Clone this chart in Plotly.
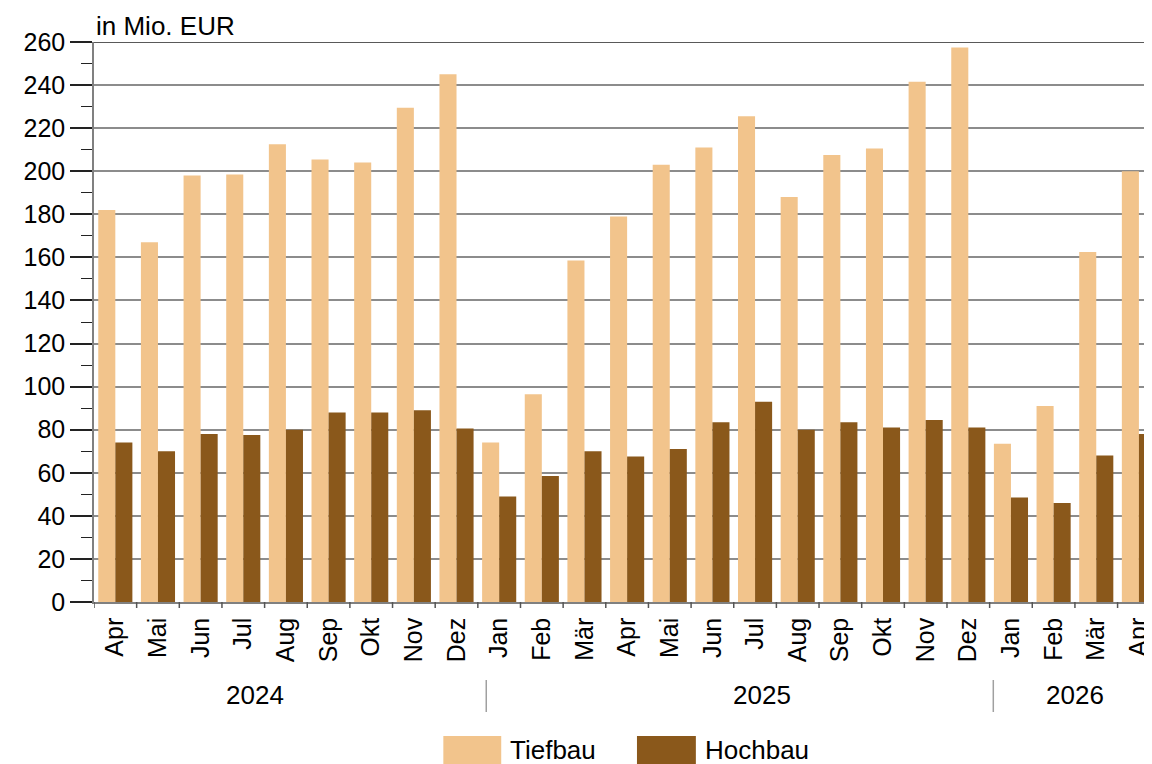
import plotly.graph_objects as go

months = ["Apr", "Mai", "Jun", "Jul", "Aug", "Sep", "Okt", "Nov", "Dez",
          "Jan", "Feb", "Mär", "Apr", "Mai", "Jun", "Jul", "Aug", "Sep", "Okt", "Nov", "Dez",
          "Jan", "Feb", "Mär", "Apr"]
years = ["2024", "2025", "2026"]
tiefbau = [182, 167, 198, 198.5, 212.5, 205.5, 204, 229.5, 245,
           74, 96.5, 158.5, 179, 203, 211, 225.5, 188, 207.5, 210.5, 241.5, 257.5,
           73.5, 91, 162.5, 200]
hochbau = [74, 70, 78, 77.5, 80, 88, 88, 89, 80.5,
           49, 58.5, 70, 67.5, 71, 83.5, 93, 80, 83.5, 81, 84.5, 81,
           48.5, 46, 68, 78]

C_TIEF = "#F2C48C"
C_HOCH = "#8A581B"

OFF = 8  # default page body margin
W, H = 1152, 764
L, T, R, B = 94, 42, 1152, 602
CAT_W = 42.73
idx = list(range(len(months)))


def px(x):
    return (x - L) / (R - L)


def py(y):
    return (B - y) / (B - T)


FONT = "Liberation Sans, Arial, sans-serif"
FS = 25

fig = go.Figure()
fig.add_bar(x=idx, y=tiefbau, name="Tiefbau", marker_color=C_TIEF, marker_line_width=0)
fig.add_bar(x=idx, y=hochbau, name="Hochbau", marker_color=C_HOCH, marker_line_width=0)

fig.update_layout(
    width=W - OFF, height=H - OFF,
    margin=dict(l=L - OFF, r=W - R, t=T - OFF, b=H - B, pad=0),
    plot_bgcolor="white", paper_bgcolor="white",
    barmode="group", bargap=0.2, bargroupgap=0,
    showlegend=False,
    font=dict(family=FONT, size=FS, color="black"),
)
fig.update_xaxes(
    type="linear",
    range=[-0.5, -0.5 + (R - L) / CAT_W],
    tickmode="array", tickvals=idx, ticktext=months,
    tickangle=-90, ticks="outside", ticklen=4, tickcolor="rgba(0,0,0,0)",
    ticklabeloverflow="allow",
    showgrid=False,
    showline=True, linecolor="#808080", linewidth=1.5,
    tickfont=dict(size=FS),
)
fig.update_yaxes(
    range=[0, 260], dtick=20, tick0=0,
    ticks="outside", ticklen=22, tickcolor="#222222", tickwidth=1.5,
    showgrid=True, gridcolor="#8c8c8c", gridwidth=1.5,
    showline=True, linecolor="#808080", linewidth=1.5,
    zeroline=False,
    minor=dict(dtick=10, ticks="outside", ticklen=11, tickcolor="#222222", tickwidth=1.2, showgrid=False),
    tickfont=dict(size=FS),
)

shapes = []
# category boundary ticks
for i in range(len(months) + 1):
    b = i - 0.5
    shapes.append(dict(type="line", xref="x", yref="paper", x0=b, x1=b, y0=0, y1=py(608),
                       line=dict(color="#555555", width=1.5)))
# top line at 260
shapes.append(dict(type="line", xref="paper", yref="y", x0=0, x1=1, y0=260, y1=260,
                   line=dict(color="#222222", width=1.5)))
# year separators
for sx in [487, 995]:
    shapes.append(dict(type="line", xref="paper", yref="paper", x0=px(sx), x1=px(sx),
                       y0=py(680), y1=py(712), line=dict(color="#a0a0a0", width=1.5)))
# legend swatches
shapes.append(dict(type="rect", xref="paper", yref="paper", x0=px(444), x1=px(502),
                   y0=py(736), y1=py(766), fillcolor=C_TIEF, line=dict(width=0)))
shapes.append(dict(type="rect", xref="paper", yref="paper", x0=px(638), x1=px(697),
                   y0=py(736), y1=py(766), fillcolor=C_HOCH, line=dict(width=0)))

annotations = [
    dict(text="in Mio. EUR", xref="paper", yref="paper", x=px(94), y=py(26),
         xanchor="left", yanchor="middle", showarrow=False, font=dict(size=FS + 1)),
    dict(text="Tiefbau", xref="paper", yref="paper", x=px(509), y=py(750),
         xanchor="left", yanchor="middle", showarrow=False, font=dict(size=FS + 1)),
    dict(text="Hochbau", xref="paper", yref="paper", x=px(704), y=py(750),
         xanchor="left", yanchor="middle", showarrow=False, font=dict(size=FS + 1)),
]
for yl, xc in zip(years, [255, 763, 1077]):
    annotations.append(dict(text=yl, xref="paper", yref="paper", x=px(xc), y=py(695),
                            xanchor="center", yanchor="middle", showarrow=False,
                            font=dict(size=FS + 1)))

fig.update_layout(shapes=shapes, annotations=annotations)
fig.write_html("out.html")
